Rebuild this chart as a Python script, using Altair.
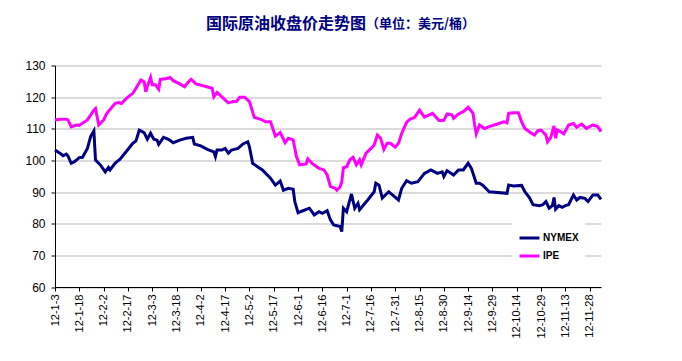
import altair as alt
import pandas as pd

TITLE_MAIN = "国际原油收盘价走势图"
TITLE_UNIT = "（单位：美元/桶）"
TICK_LABELS = ["12-1-3", "12-1-18", "12-2-2", "12-2-17", "12-3-3", "12-3-18",
               "12-4-2", "12-4-17", "12-5-2", "12-5-17", "12-6-1", "12-6-16",
               "12-7-1", "12-7-16", "12-7-31", "12-8-15", "12-8-30", "12-9-14",
               "12-9-29", "12-10-14", "12-10-29", "12-11-13", "12-11-28"]
SERIES = ["NYMEX", "IPE"]
COLORS = ["#000080", "#FF00FF"]

# days after 2012-01-03
NYMEX_DAY = [0, 3, 5, 7, 8, 10, 12, 15, 17, 20, 22, 24, 25, 28, 31, 33, 34, 37, 40, 44,
             48, 50, 52, 55, 57, 59, 61, 63, 64, 67, 70, 73, 77, 81, 85, 86, 90, 94, 98, 99,
             100, 103, 105, 107, 109, 113, 116, 119, 120, 122, 125, 128, 133, 136, 139, 141,
             144, 147, 148, 150, 153, 157, 160, 163, 165, 168, 170, 172, 176, 177, 178, 180,
             183, 185, 187, 188, 193, 197, 198, 200, 202, 206, 209, 212, 214, 217, 220, 224,
             228, 232, 236, 239, 240, 242, 246, 249, 252, 255, 257, 260, 262, 264, 268, 279,
             280, 283, 288, 290, 293, 295, 299, 301, 303, 305, 307, 308, 309, 311, 313, 315,
             317, 320, 322, 324, 327, 329, 332, 335, 337]
NYMEX = [103.3, 102.3, 101.5, 102.0, 101.4, 99.1, 99.6, 100.9, 101.0, 103.8, 107.5, 109.3,
         100.1, 98.6, 96.4, 97.8, 97.0, 99.1, 100.3, 102.8, 105.4, 106.2, 109.6, 108.8, 106.7,
         108.6, 106.7, 106.4, 105.1, 107.3, 106.7, 105.6, 106.4, 107.0, 107.3, 105.2, 104.6,
         103.5, 102.7, 101.2, 103.3, 103.3, 103.8, 102.3, 103.3, 103.8, 105.2, 105.9, 104.3,
         99.1, 98.0, 97.0, 94.4, 92.2, 93.5, 90.6, 91.2, 90.9, 87.0, 83.5, 84.1, 84.9, 82.8,
         83.8, 83.3, 84.1, 81.2, 79.6, 79.1, 77.5, 84.9, 83.8, 89.4, 84.9, 86.5, 84.4, 87.5,
         90.1, 92.8, 92.2, 88.1, 90.1, 88.8, 87.5, 91.2, 93.6, 92.8, 93.3, 95.9, 97.0, 95.9,
         96.4, 94.9, 96.8, 95.4, 97.0, 97.0, 99.1, 97.5, 92.8, 92.8, 92.2, 90.1, 89.6, 92.2,
         91.9, 92.1, 90.1, 88.1, 86.0, 85.7, 86.0, 87.0, 84.9, 85.7, 88.3, 84.6, 85.7, 85.2,
         85.7, 86.0, 89.1, 87.5, 88.3, 88.0, 87.0, 89.1, 89.1, 87.7]

IPE_DAY = [0, 3, 7, 8, 10, 13, 15, 20, 24, 25, 27, 30, 32, 37, 39, 41, 44, 48, 50, 53,
           55, 56, 57, 59, 60, 62, 64, 65, 69, 71, 73, 77, 80, 82, 84, 87, 92, 97, 98, 100,
           103, 107, 110, 112, 114, 117, 120, 123, 127, 130, 133, 136, 139, 142, 144, 147,
           149, 151, 155, 156, 159, 163, 166, 168, 170, 173, 174, 176, 177, 178, 180, 182,
           184, 186, 188, 189, 192, 195, 197, 199, 201, 203, 205, 207, 210, 212, 214, 217,
           219, 222, 225, 228, 233, 237, 240, 242, 245, 246, 249, 252, 255, 258, 259, 260,
           262, 265, 268, 273, 277, 279, 280, 283, 286, 288, 290, 294, 296, 298, 300, 303,
           304, 306, 308, 309, 310, 312, 314, 317, 320, 322, 325, 328, 332, 335, 337]
IPE = [112.8, 113.0, 113.0, 112.8, 110.6, 111.2, 111.1, 112.8, 115.9, 116.4, 111.2, 112.8,
       114.9, 118.0, 118.3, 118.0, 119.6, 121.2, 122.8, 125.4, 124.9, 121.7, 123.4, 126.3,
       123.9, 123.9, 122.5, 125.6, 125.9, 126.2, 125.2, 124.2, 123.3, 124.6, 125.6, 124.2,
       123.5, 122.8, 120.1, 121.5, 120.1, 118.2, 118.6, 118.6, 120.0, 120.0, 118.6, 113.6,
       113.0, 112.2, 112.2, 107.7, 108.8, 105.6, 107.0, 106.5, 101.2, 98.6, 98.9, 100.5,
       98.9, 97.5, 97.0, 95.4, 91.7, 91.2, 90.6, 91.7, 93.3, 97.7, 98.0, 100.2, 101.0, 98.6,
       100.2, 98.6, 102.3, 103.8, 104.9, 108.0, 107.0, 103.5, 105.4, 105.4, 104.2, 105.4,
       108.6, 112.0, 113.0, 113.6, 115.9, 113.7, 114.9, 112.6, 112.7, 114.7, 114.4, 113.3,
       114.7, 115.4, 116.8, 114.9, 111.2, 108.4, 111.2, 110.1, 110.7, 111.5, 112.2, 111.9,
       114.9, 115.1, 115.1, 112.2, 110.1, 108.6, 108.0, 109.4, 109.6, 108.0, 105.9, 107.3,
       110.9, 107.0, 109.6, 109.1, 108.4, 111.2, 111.7, 110.5, 111.5, 110.1, 111.2, 110.7,
       109.1]

df = pd.concat([
    pd.DataFrame({"day": NYMEX_DAY, "price": NYMEX, "series": SERIES[0]}),
    pd.DataFrame({"day": IPE_DAY, "price": IPE, "series": SERIES[1]}),
])

W, H = 546, 221.5
label_js = "[" + ",".join("'" + t + "'" for t in TICK_LABELS) + "]"

lines = alt.Chart(df).mark_line(strokeWidth=3, interpolate="linear").encode(
    x=alt.X("day:Q",
            scale=alt.Scale(domain=[0, 337], nice=False, zero=False),
            axis=alt.Axis(values=list(range(0, 331, 15)), title=None, grid=False,
                          labelAngle=270, labelExpr=label_js + "[round(datum.value/15)]",
                          labelFont="Liberation Sans", labelFontSize=11,
                          labelColor="black", labelPadding=3,
                          domainColor="black", tickColor="black", tickSize=4,
                          labelOverlap=False)),
    y=alt.Y("price:Q",
            scale=alt.Scale(domain=[60, 130], nice=False, zero=False),
            axis=alt.Axis(values=list(range(60, 131, 10)), title=None, grid=True,
                          gridColor="#b8b8b8", gridWidth=1.2,
                          labelFont="Liberation Sans", labelFontSize=12,
                          labelColor="black", labelPadding=6,
                          domainColor="black", tickColor="black", tickSize=4)),
    color=alt.Color("series:N",
                    scale=alt.Scale(domain=SERIES, range=COLORS),
                    legend=alt.Legend(title=None, orient="none", legendX=457, legendY=155,
                                      fillColor="white", padding=6,
                                      symbolType="stroke", symbolStrokeWidth=3,
                                      symbolSize=400, labelFont="Liberation Sans",
                                      labelFontWeight="bold", labelFontSize=10,
                                      labelColor="black", labelOffset=2, rowPadding=0)),
    order="day:Q",
)

title_df = pd.DataFrame({"main": [TITLE_MAIN], "unit": [TITLE_UNIT]})
t1 = alt.Chart(title_df).mark_text(align="right", baseline="middle", font="Noto Sans CJK SC",
                                   fontSize=16, fontWeight="bold", color="#000080").encode(
    text="main:N", x=alt.value(311), y=alt.value(-42))
t2 = alt.Chart(title_df).mark_text(align="left", baseline="middle", font="Noto Sans CJK SC",
                                   fontSize=13, fontWeight="bold", color="#000080").encode(
    text="unit:N", x=alt.value(311), y=alt.value(-41.5))

chart = alt.layer(lines, t1, t2).properties(
    width=W, height=H,
    autosize=alt.AutoSizeParams(type="none"),
    padding={"left": 47, "top": 57.5, "right": 70, "bottom": 62},
).configure_view(stroke=None)

chart.save("out.html", embed_options={"renderer": "svg", "actions": False})
